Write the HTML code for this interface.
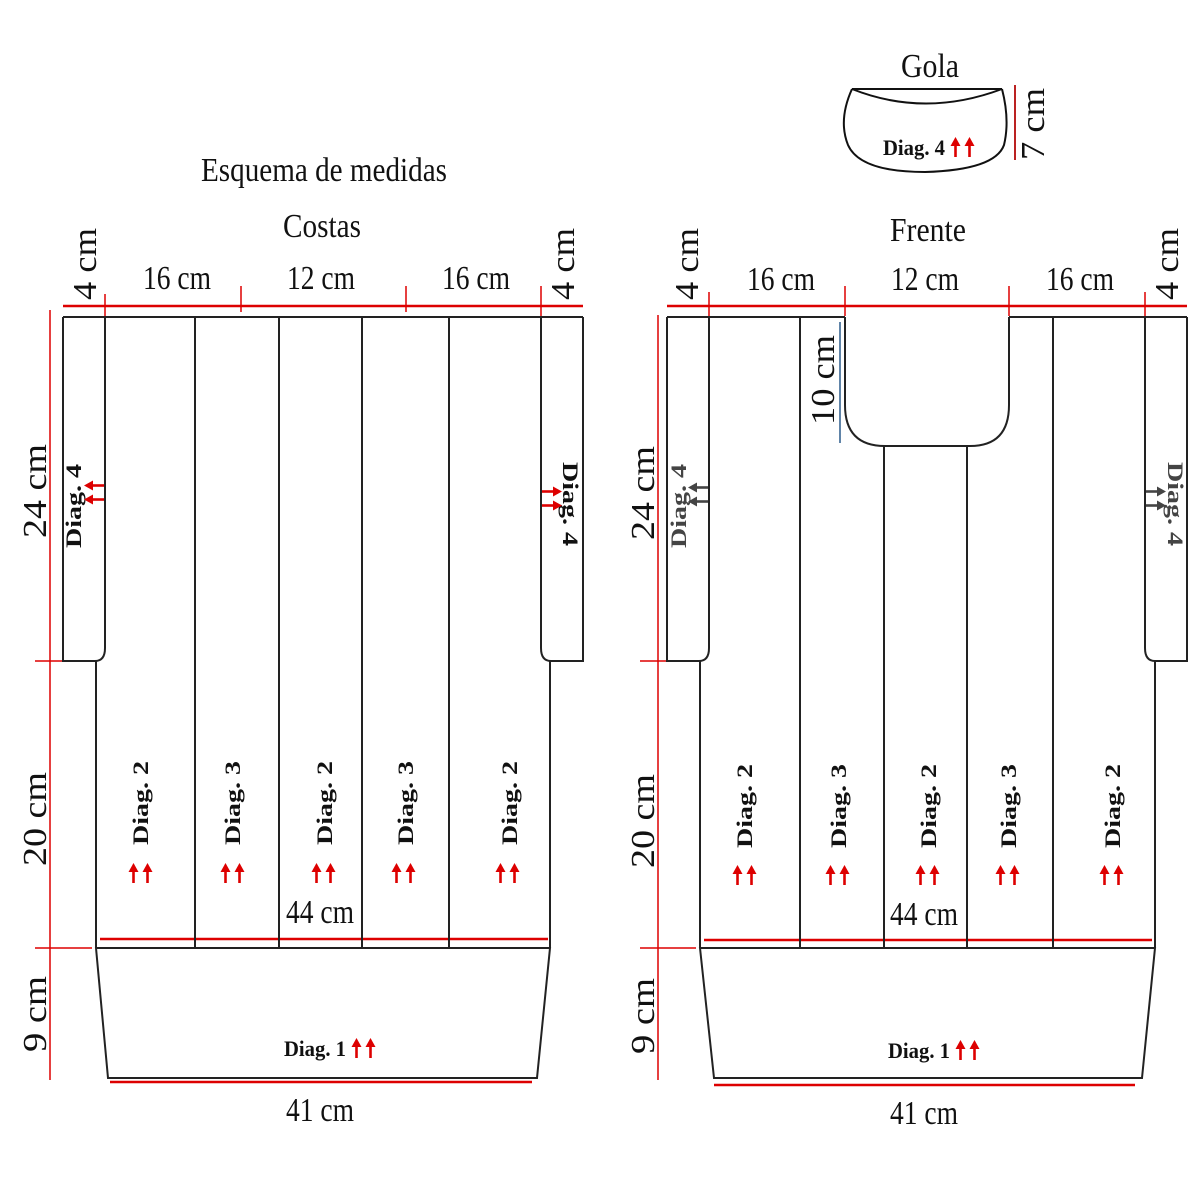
<!DOCTYPE html>
<html><head><meta charset="utf-8"><style>
html,body{margin:0;padding:0;background:#fff}
svg{display:block}
text{font-family:"Liberation Serif",serif}
.d{font-size:34px;fill:#111}
.b{font-size:22px;font-weight:bold;fill:#111}
</style></head><body>
<svg width="1200" height="1200" viewBox="0 0 1200 1200" xmlns="http://www.w3.org/2000/svg">
<defs>
<g id="ar"><path d="M2.5 6 L2.5 20" stroke="#d00" stroke-width="2.6"/><path d="M-2.5 9 L2.5 0 L7.5 9 Z" fill="#d00"/></g>
<g id="aa"><use href="#ar"/><use href="#ar" x="14"/></g>
<g id="ag"><path d="M2.5 6 L2.5 20" stroke="#444" stroke-width="2.6"/><path d="M-2.5 9 L2.5 0 L7.5 9 Z" fill="#444"/></g>
<g id="gg"><use href="#ag"/><use href="#ag" x="14"/></g>
</defs>

<text x="324" y="181" class="d" text-anchor="middle" textLength="246" lengthAdjust="spacingAndGlyphs">Esquema de medidas</text>
<text x="322" y="237" class="d" text-anchor="middle" textLength="78" lengthAdjust="spacingAndGlyphs">Costas</text>
<text x="928" y="241" class="d" text-anchor="middle" textLength="76" lengthAdjust="spacingAndGlyphs">Frente</text>
<text x="930" y="77" class="d" text-anchor="middle" textLength="58" lengthAdjust="spacingAndGlyphs">Gola</text>

<g fill="none" stroke="#111" stroke-width="2">
<path d="M852 89 L1002 89"/>
<path d="M852 89 Q925 118 1002 89"/>
<path d="M852 89 Q838 120 848 145 Q860 172 925 172 Q995 170 1004 145 Q1010 120 1002 89"/>
</g>
<line x1="1015" y1="85" x2="1015" y2="160" stroke="#b22" stroke-width="2"/>
<text transform="translate(1044,160) rotate(-90)" class="d" textLength="72" lengthAdjust="spacingAndGlyphs">7 cm</text>
<text x="883" y="155" class="b" textLength="62" lengthAdjust="spacingAndGlyphs">Diag. 4</text>
<use href="#aa" x="953" y="137"/>

<!-- BACK -->
<g stroke="#d00" stroke-width="2.5" fill="none">
<line x1="63" y1="306" x2="583" y2="306"/>
<line x1="100" y1="939" x2="548" y2="939"/>
<line x1="110" y1="1082" x2="532" y2="1082"/>
</g>
<g stroke="#d00" stroke-width="1.5">
<line x1="105" y1="294" x2="105" y2="316"/><line x1="241" y1="286" x2="241" y2="312"/>
<line x1="406" y1="286" x2="406" y2="312"/><line x1="541" y1="286" x2="541" y2="316"/>
<line x1="50" y1="310" x2="50" y2="1080"/>
<line x1="35" y1="661" x2="63" y2="661"/><line x1="35" y1="948" x2="92" y2="948"/>
</g>
<g fill="none" stroke="#222" stroke-width="2">
<line x1="63" y1="317" x2="583" y2="317"/>
<path d="M63 317 L63 661 L95 661 Q105 661 105 648 L105 317"/>
<path d="M583 317 L583 661 L551 661 Q541 661 541 648 L541 317"/>
<line x1="96" y1="661" x2="96" y2="948"/><line x1="550" y1="661" x2="550" y2="948"/>
<line x1="195" y1="317" x2="195" y2="948"/><line x1="279" y1="317" x2="279" y2="948"/>
<line x1="362" y1="317" x2="362" y2="948"/><line x1="449" y1="317" x2="449" y2="948"/>
<path d="M96 948 L550 948 L537 1078 L108 1078 Z"/>
</g>
<text transform="translate(96,300) rotate(-90)" class="d" textLength="72" lengthAdjust="spacingAndGlyphs">4 cm</text>
<text transform="translate(574,300) rotate(-90)" class="d" textLength="72" lengthAdjust="spacingAndGlyphs">4 cm</text>
<text x="177" y="289" class="d" text-anchor="middle" textLength="68" lengthAdjust="spacingAndGlyphs">16 cm</text>
<text x="321" y="289" class="d" text-anchor="middle" textLength="68" lengthAdjust="spacingAndGlyphs">12 cm</text>
<text x="476" y="289" class="d" text-anchor="middle" textLength="68" lengthAdjust="spacingAndGlyphs">16 cm</text>
<text transform="translate(46,538) rotate(-90)" class="d" textLength="94" lengthAdjust="spacingAndGlyphs">24 cm</text>
<text transform="translate(46,866) rotate(-90)" class="d" textLength="94" lengthAdjust="spacingAndGlyphs">20 cm</text>
<text transform="translate(46,1052) rotate(-90)" class="d" textLength="76" lengthAdjust="spacingAndGlyphs">9 cm</text>
<text x="320" y="923" class="d" text-anchor="middle" textLength="68" lengthAdjust="spacingAndGlyphs">44 cm</text>
<text x="320" y="1121" class="d" text-anchor="middle" textLength="68" lengthAdjust="spacingAndGlyphs">41 cm</text>
<text transform="translate(81,548) rotate(-90)" class="b" textLength="84" lengthAdjust="spacingAndGlyphs">Diag. 4</text>
<use href="#aa" transform="translate(84,502) rotate(-90)"/>
<text transform="translate(563,462) rotate(90)" class="b" textLength="84" lengthAdjust="spacingAndGlyphs">Diag. 4</text>
<use href="#aa" transform="translate(562,489) rotate(90)"/>
<text transform="translate(148,845) rotate(-90)" class="b" textLength="84" lengthAdjust="spacingAndGlyphs">Diag. 2</text>
<text transform="translate(240,845) rotate(-90)" class="b" textLength="84" lengthAdjust="spacingAndGlyphs">Diag. 3</text>
<text transform="translate(332,845) rotate(-90)" class="b" textLength="84" lengthAdjust="spacingAndGlyphs">Diag. 2</text>
<text transform="translate(413,845) rotate(-90)" class="b" textLength="84" lengthAdjust="spacingAndGlyphs">Diag. 3</text>
<text transform="translate(517,845) rotate(-90)" class="b" textLength="84" lengthAdjust="spacingAndGlyphs">Diag. 2</text>
<use href="#aa" x="131" y="863"/><use href="#aa" x="223" y="863"/><use href="#aa" x="314" y="863"/>
<use href="#aa" x="394" y="863"/><use href="#aa" x="498" y="863"/>
<text x="284" y="1056" class="b" textLength="62" lengthAdjust="spacingAndGlyphs">Diag. 1</text>
<use href="#aa" x="354" y="1038"/>

<!-- FRONT -->
<g stroke="#d00" stroke-width="2.5" fill="none">
<line x1="667" y1="306" x2="1187" y2="306"/>
<line x1="704" y1="940" x2="1152" y2="940"/>
<line x1="714" y1="1085" x2="1135" y2="1085"/>
</g>
<g stroke="#d00" stroke-width="1.5">
<line x1="709" y1="292" x2="709" y2="316"/><line x1="845" y1="286" x2="845" y2="316"/>
<line x1="1009" y1="286" x2="1009" y2="316"/><line x1="1145" y1="292" x2="1145" y2="316"/>
<line x1="658" y1="315" x2="658" y2="1080"/>
<line x1="640" y1="661" x2="667" y2="661"/><line x1="640" y1="948" x2="696" y2="948"/>
</g>
<line x1="840" y1="322" x2="840" y2="443" stroke="#2a5a8a" stroke-width="1.5"/>
<g fill="none" stroke="#222" stroke-width="2">
<line x1="667" y1="317" x2="845" y2="317"/><line x1="1009" y1="317" x2="1187" y2="317"/>
<path d="M845 317 L845 405 Q845 446 885 446 L970 446 Q1009 446 1009 405 L1009 317"/>
<path d="M667 317 L667 661 L699 661 Q709 661 709 648 L709 317"/>
<path d="M1187 317 L1187 661 L1155 661 Q1145 661 1145 648 L1145 317"/>
<line x1="700" y1="661" x2="700" y2="948"/><line x1="1155" y1="661" x2="1155" y2="948"/>
<line x1="800" y1="317" x2="800" y2="948"/><line x1="884" y1="446" x2="884" y2="948"/>
<line x1="967" y1="446" x2="967" y2="948"/><line x1="1053" y1="317" x2="1053" y2="948"/>
<path d="M700 948 L1155 948 L1142 1078 L714 1078 Z"/>
</g>
<text transform="translate(698,300) rotate(-90)" class="d" textLength="72" lengthAdjust="spacingAndGlyphs">4 cm</text>
<text transform="translate(1178,300) rotate(-90)" class="d" textLength="72" lengthAdjust="spacingAndGlyphs">4 cm</text>
<text x="781" y="290" class="d" text-anchor="middle" textLength="68" lengthAdjust="spacingAndGlyphs">16 cm</text>
<text x="925" y="290" class="d" text-anchor="middle" textLength="68" lengthAdjust="spacingAndGlyphs">12 cm</text>
<text x="1080" y="290" class="d" text-anchor="middle" textLength="68" lengthAdjust="spacingAndGlyphs">16 cm</text>
<text transform="translate(834,425) rotate(-90)" class="d" textLength="90" lengthAdjust="spacingAndGlyphs">10 cm</text>
<text transform="translate(654,540) rotate(-90)" class="d" textLength="94" lengthAdjust="spacingAndGlyphs">24 cm</text>
<text transform="translate(654,868) rotate(-90)" class="d" textLength="94" lengthAdjust="spacingAndGlyphs">20 cm</text>
<text transform="translate(654,1054) rotate(-90)" class="d" textLength="76" lengthAdjust="spacingAndGlyphs">9 cm</text>
<text x="924" y="925" class="d" text-anchor="middle" textLength="68" lengthAdjust="spacingAndGlyphs">44 cm</text>
<text x="924" y="1124" class="d" text-anchor="middle" textLength="68" lengthAdjust="spacingAndGlyphs">41 cm</text>
<text transform="translate(686,548) rotate(-90)" class="b" style="fill:#444" textLength="84" lengthAdjust="spacingAndGlyphs">Diag. 4</text>
<use href="#gg" transform="translate(688,504) rotate(-90)"/>
<text transform="translate(1168,462) rotate(90)" class="b" style="fill:#444" textLength="84" lengthAdjust="spacingAndGlyphs">Diag. 4</text>
<use href="#gg" transform="translate(1166,489) rotate(90)"/>
<text transform="translate(752,848) rotate(-90)" class="b" textLength="84" lengthAdjust="spacingAndGlyphs">Diag. 2</text>
<text transform="translate(846,848) rotate(-90)" class="b" textLength="84" lengthAdjust="spacingAndGlyphs">Diag. 3</text>
<text transform="translate(936,848) rotate(-90)" class="b" textLength="84" lengthAdjust="spacingAndGlyphs">Diag. 2</text>
<text transform="translate(1016,848) rotate(-90)" class="b" textLength="84" lengthAdjust="spacingAndGlyphs">Diag. 3</text>
<text transform="translate(1120,848) rotate(-90)" class="b" textLength="84" lengthAdjust="spacingAndGlyphs">Diag. 2</text>
<use href="#aa" x="735" y="865"/><use href="#aa" x="828" y="865"/><use href="#aa" x="918" y="865"/>
<use href="#aa" x="998" y="865"/><use href="#aa" x="1102" y="865"/>
<text x="888" y="1058" class="b" textLength="62" lengthAdjust="spacingAndGlyphs">Diag. 1</text>
<use href="#aa" x="958" y="1040"/>
</svg>
</body></html>
